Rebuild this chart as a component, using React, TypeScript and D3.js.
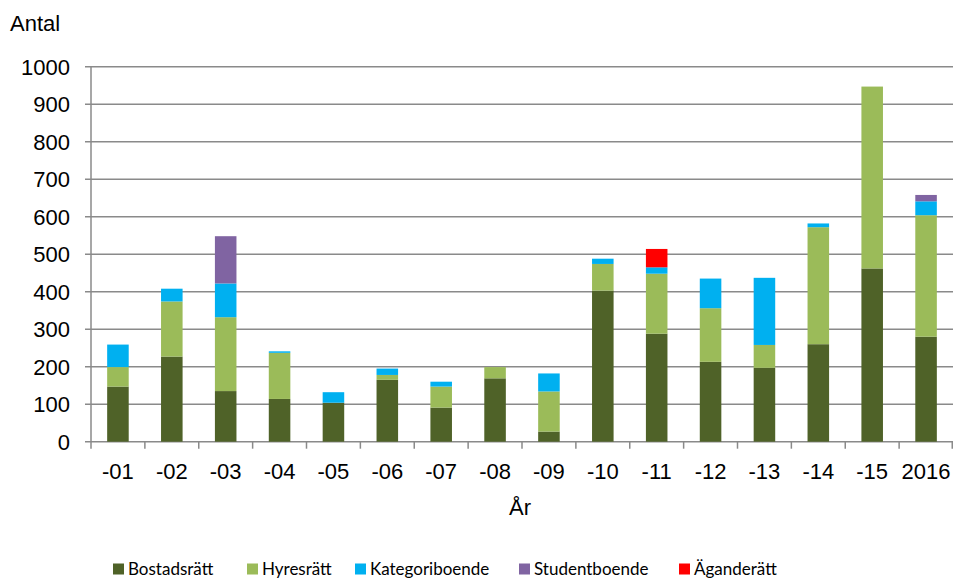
import React from "react";
import * as d3 from "d3";

const categories = ["-01", "-02", "-03", "-04", "-05", "-06", "-07", "-08", "-09", "-10", "-11", "-12", "-13", "-14", "-15", "2016"];
const bostadsratt = [147, 227, 135, 114, 104, 165, 91, 169, 27, 403, 288, 213, 197, 260, 462, 280];
const hyresratt = [52, 147, 197, 123, 0, 13, 56, 30, 107, 71, 160, 143, 61, 312, 485, 324];
const kategoriboende = [60, 34, 90, 4, 28, 17, 13, 0, 48, 14, 17, 79, 179, 10, 0, 37];
const studentboende = [0, 0, 126, 0, 0, 0, 0, 0, 0, 0, 0, 0, 0, 0, 0, 17];
const aganderatt = [0, 0, 0, 0, 0, 0, 0, 0, 0, 0, 49, 0, 0, 0, 0, 0];
const seriesNames = ["Bostadsrätt", "Hyresrätt", "Kategoriboende", "Studentboende", "Äganderätt"];
const seriesColors = ["#4F6228", "#9BBB59", "#00B0F0", "#8064A2", "#FF0000"];
const yTicks = [0, 100, 200, 300, 400, 500, 600, 700, 800, 900, 1000];

const W = 953;
const H = 578;
const left = 91;
const right = 953;
const top = 66.7;
const bottom = 441.7;
const legendX = [113, 247, 355, 519, 679];

export default function App() {
  const seriesValues = [bostadsratt, hyresratt, kategoriboende, studentboende, aganderatt];
  const rows = categories.map((c, i) => {
    const r: any = { cat: c };
    seriesNames.forEach((s, k) => (r[s] = seriesValues[k][i]));
    return r;
  });
  const stack = d3.stack<any>().keys(seriesNames)(rows);
  const x = d3.scaleBand().domain(categories).range([left, right]).paddingInner(0.6).paddingOuter(0.3);
  const xb = d3.scaleBand().domain(categories).range([left, right]);
  const y = d3.scaleLinear().domain([0, 1000]).range([bottom, top]);
  const axisFont = "'Liberation Sans', Arial, sans-serif";

  return (
    <svg width={W} height={H} style={{ position: "absolute", left: 0, top: 0, background: "#fff" }}>
      {yTicks.map((t) => (
        <line key={"g" + t} x1={left - 6} x2={right} y1={y(t)} y2={y(t)} stroke="#8a8a8a" strokeWidth={1.5} />
      ))}
      {yTicks.map((t) => (
        <text key={"yl" + t} x={70} y={y(t)} dy="0.36em" textAnchor="end" fontFamily={axisFont} fontSize={22} fill="#000">
          {t}
        </text>
      ))}
      <line x1={left} x2={left} y1={top} y2={bottom} stroke="#8a8a8a" strokeWidth={1.5} />
      {categories.map((c) => (
        <line key={"xt" + c} x1={xb(c)!} x2={xb(c)!} y1={bottom} y2={bottom + 7} stroke="#8a8a8a" strokeWidth={1.5} />
      ))}
      <line x1={right - 0.75} x2={right - 0.75} y1={bottom} y2={bottom + 7} stroke="#8a8a8a" strokeWidth={1.5} />
      {stack.map((layer, k) => (
        <g key={layer.key} fill={seriesColors[k]}>
          {layer.map((d, i) =>
            d[1] - d[0] > 0 ? (
              <rect key={i} x={x(categories[i])!} width={x.bandwidth()} y={y(d[1])} height={y(d[0]) - y(d[1])} />
            ) : null
          )}
        </g>
      ))}
      {categories.map((c) => (
        <text key={"xl" + c} x={xb(c)! + xb.bandwidth() / 2} y={479} textAnchor="middle" fontFamily={axisFont} fontSize={22} fill="#000">
          {c}
        </text>
      ))}
      <text x={10} y={31} fontFamily={axisFont} fontSize={22} fill="#000">Antal</text>
      <text x={520} y={515} textAnchor="middle" fontFamily={axisFont} fontSize={22} fill="#000">År</text>
      {seriesNames.map((s, k) => (
        <g key={"lg" + s}>
          <rect x={legendX[k]} y={563.5} width={11} height={11} fill={seriesColors[k]} />
          <text x={legendX[k] + 15} y={575} fontFamily="Lato, 'Open Sans', sans-serif" fontSize={17} fill="#000">
            {s}
          </text>
        </g>
      ))}
    </svg>
  );
}
